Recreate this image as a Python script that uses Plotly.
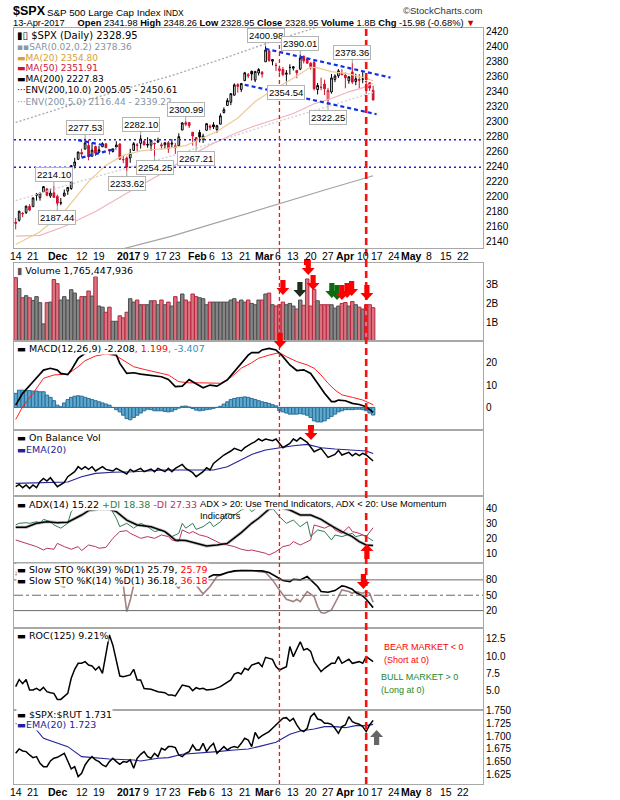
import plotly.graph_objects as go
import pandas as pd

# ---------------- calendar ----------------
HOLIDAYS = ["2016-11-24", "2016-12-26", "2017-01-02", "2017-01-16",
            "2017-02-20", "2017-04-14", "2017-05-29"]
CAL = [d.strftime("%Y-%m-%d") for d in pd.bdate_range("2016-11-14", "2017-05-31")
       if d.strftime("%Y-%m-%d") not in HOLIDAYS]
DAY = {d: i for i, d in enumerate(CAL)}

TICK_DATES = ["2016-11-14", "2016-11-21", "2016-12-01", "2016-12-12", "2016-12-19",
              "2017-01-03", "2017-01-09", "2017-01-17", "2017-01-23", "2017-02-01",
              "2017-02-06", "2017-02-13", "2017-02-21", "2017-03-01", "2017-03-06",
              "2017-03-13", "2017-03-20", "2017-03-27", "2017-04-03", "2017-04-10",
              "2017-04-17", "2017-04-24", "2017-05-01", "2017-05-08", "2017-05-15",
              "2017-05-22"]
TICK_TEXT = ["14", "21", "<b>Dec</b>", "12", "19", "<b>2017</b>", "9", "17", "23", "<b>Feb</b>",
             "6", "13", "21", "<b>Mar</b>", "6", "13", "20", "27", "<b>Apr</b>", "10",
             "17", "24", "<b>May</b>", "8", "15", "22"]
TICK_NUDGE = [0, 0, 0, 0, 0, -1.5, 1.5, 0, 0, -2, 2, 0, 0, -1.5, 2.5, 0, 0, 0, 0, 0,
              0, 0, 0, 0, 0, 0]

# ---------------- price data ----------------
PREV_CLOSE = 2164.45
OPEN = [2165.64, 2168.29, 2177.53, 2178.61, 2186.85, 2186.43, 2201.56, 2198.55, 2206.27, 2210.21,
        2200.76, 2204.97, 2200.17, 2191.12, 2200.65, 2207.26, 2210.72, 2241.13, 2249.73, 2258.83,
        2263.32, 2268.35, 2253.77, 2266.81, 2259.24, 2266.50, 2270.54, 2262.93, 2260.25, 2266.23,
        2270.23, 2249.50, 2251.61, 2251.57, 2261.60, 2268.18, 2271.14, 2273.59, 2269.72, 2268.60,
        2271.14, 2272.74, 2269.14, 2269.14, 2271.90, 2269.96, 2267.78, 2267.88, 2288.88, 2298.63,
        2299.02, 2286.01, 2274.02, 2285.59, 2276.69, 2288.54, 2294.28, 2295.87, 2289.55, 2296.70,
        2312.27, 2321.72, 2326.12, 2335.58, 2349.64, 2343.01, 2354.91, 2361.11, 2367.50, 2355.73,
        2365.23, 2366.08, 2380.13, 2394.75, 2380.92, 2375.23, 2370.74, 2369.81, 2363.49, 2372.52,
        2371.56, 2368.55, 2370.34, 2387.71, 2383.71, 2378.24, 2379.32, 2343.00, 2345.97, 2350.42,
        2329.11, 2339.79, 2356.54, 2361.31, 2364.82, 2362.34, 2354.76, 2366.59, 2353.79, 2356.59,
        2357.16, 2353.92, 2352.15, 2341.98]
HIGH = [2171.36, 2180.84, 2179.22, 2188.06, 2189.89, 2198.70, 2204.80, 2204.72, 2213.35, 2211.14,
        2210.46, 2214.10, 2202.60, 2197.95, 2209.42, 2212.78, 2241.63, 2251.69, 2259.80, 2264.03,
        2277.53, 2276.20, 2272.12, 2268.05, 2267.47, 2272.56, 2271.23, 2263.18, 2263.79, 2273.82,
        2271.31, 2254.51, 2253.58, 2263.88, 2272.82, 2271.50, 2282.10, 2275.49, 2279.27, 2275.32,
        2271.78, 2278.68, 2272.08, 2272.01, 2274.33, 2276.96, 2271.78, 2284.63, 2299.55, 2300.99,
        2299.02, 2286.01, 2279.09, 2289.14, 2283.97, 2298.31, 2296.18, 2299.40, 2295.91, 2311.08,
        2319.23, 2331.58, 2337.58, 2351.30, 2351.31, 2351.16, 2366.71, 2365.13, 2368.26, 2367.34,
        2371.54, 2367.79, 2400.98, 2394.75, 2383.89, 2378.80, 2375.12, 2373.09, 2369.08, 2376.86,
        2374.42, 2368.55, 2390.01, 2388.10, 2385.71, 2379.55, 2381.93, 2351.81, 2358.92, 2356.22,
        2344.90, 2363.78, 2363.36, 2370.42, 2370.35, 2365.87, 2360.53, 2378.36, 2364.16, 2363.76,
        2366.37, 2355.22, 2352.72, 2348.26]
LOW = [2156.08, 2166.38, 2172.20, 2176.65, 2180.38, 2186.43, 2194.51, 2194.51, 2206.27, 2200.36,
       2198.15, 2198.81, 2187.44, 2188.37, 2199.97, 2202.21, 2208.93, 2237.57, 2249.23, 2252.37,
       2263.32, 2248.44, 2253.77, 2254.24, 2258.21, 2266.14, 2265.15, 2256.08, 2258.84, 2266.15,
       2249.11, 2244.56, 2233.62, 2245.13, 2261.60, 2260.45, 2264.06, 2268.80, 2265.27, 2260.83,
       2254.25, 2271.51, 2262.81, 2263.35, 2258.41, 2265.01, 2257.02, 2266.68, 2288.88, 2294.08,
       2291.62, 2268.04, 2267.21, 2272.44, 2271.65, 2287.88, 2288.57, 2290.16, 2285.38, 2296.61,
       2311.10, 2321.42, 2322.17, 2334.81, 2338.87, 2339.58, 2354.91, 2358.34, 2355.09, 2352.87,
       2361.87, 2358.96, 2380.13, 2380.17, 2375.39, 2367.98, 2365.51, 2361.01, 2354.54, 2363.04,
       2368.52, 2358.18, 2368.94, 2377.94, 2377.64, 2369.66, 2341.90, 2336.45, 2342.13, 2335.74,
       2322.25, 2337.63, 2352.94, 2358.58, 2362.60, 2344.73, 2350.72, 2350.52, 2348.90, 2344.65,
       2351.50, 2337.25, 2341.18, 2328.95]
CLOSE = [2164.20, 2180.39, 2176.94, 2187.12, 2181.90, 2198.18, 2202.94, 2204.72, 2213.35, 2201.72,
         2204.66, 2198.81, 2191.08, 2191.95, 2204.71, 2212.23, 2241.35, 2246.19, 2259.53, 2256.96,
         2271.72, 2253.28, 2262.03, 2258.07, 2262.53, 2270.76, 2265.18, 2260.96, 2263.79, 2268.88,
         2249.92, 2249.26, 2238.83, 2257.83, 2270.75, 2269.00, 2276.98, 2268.90, 2268.90, 2275.32,
         2270.44, 2274.64, 2267.89, 2271.89, 2263.69, 2271.31, 2265.20, 2280.07, 2298.37, 2296.68,
         2294.69, 2280.90, 2278.87, 2279.55, 2280.85, 2297.42, 2292.56, 2293.08, 2294.67, 2307.87,
         2316.10, 2328.25, 2337.58, 2349.25, 2347.22, 2351.16, 2365.38, 2362.82, 2363.81, 2367.34,
         2369.75, 2363.64, 2395.96, 2381.92, 2383.12, 2375.31, 2368.39, 2362.98, 2364.87, 2372.60,
         2373.47, 2365.45, 2385.26, 2381.38, 2378.25, 2373.47, 2344.02, 2348.45, 2345.96, 2343.98,
         2341.59, 2358.57, 2361.13, 2368.06, 2362.72, 2358.84, 2360.16, 2352.95, 2357.49, 2355.54,
         2357.16, 2353.78, 2344.93, 2328.95]
VOLUME_B = [3.37, 2.79, 2.30, 2.41, 2.30, 2.16, 2.36, 2.04, 0.91, 2.04,
            2.07, 3.27, 3.05, 2.18, 2.36, 2.18, 2.73, 2.55, 2.18, 2.36,
            2.36, 2.66, 2.39, 3.43, 1.86, 1.80, 1.53, 1.80, 1.05, 1.05,
            1.34, 1.23, 1.53, 2.25, 2.07, 2.18, 1.93, 1.93, 1.93, 2.14,
            2.14, 1.93, 2.18, 1.93, 2.07, 1.86, 2.36, 2.07, 2.50, 2.18,
            2.07, 2.50, 2.36, 2.30, 2.25, 1.93, 2.07, 2.07, 2.07, 2.07,
            2.07, 2.07, 2.18, 2.25, 2.07, 2.18, 2.07, 2.18, 2.00, 1.93,
            2.18, 2.18, 2.50, 2.55, 1.93, 1.86, 1.93, 2.07, 1.93, 2.00,
            1.86, 1.70, 2.18, 1.90, 3.30, 1.86, 2.75, 2.14, 1.93, 1.93,
            1.93, 1.93, 1.75, 1.86, 2.00, 2.05, 1.86, 2.10, 1.93, 1.80,
            1.70, 1.93, 1.93, 1.77]

# moving averages (trading-day index -> value)
MA20_X = [0, 7, 14, 21, 26, 31, 36, 43, 49, 53, 58, 64, 69, 74, 80, 85, 87, 91, 96, 101, 103]
MA20_Y = [2136, 2153, 2180, 2220, 2242, 2255, 2261, 2264, 2268, 2276, 2287, 2305, 2327, 2342,
          2358, 2373, 2372, 2367, 2364, 2358, 2354.8]
MA50_X = [0, 7, 14, 23, 33, 43, 49, 56, 62, 68, 74, 80, 86, 91, 96, 101, 103]
MA50_Y = [2147, 2148, 2160, 2180, 2207, 2233, 2251, 2269, 2282, 2293, 2302, 2311, 2324, 2331,
          2340, 2347, 2351.9]
MA200_X = [0, 15, 30, 45, 60, 75, 90, 103]
MA200_Y = [2090, 2110, 2129, 2147, 2168, 2190, 2210, 2227.8]
ENV_PCT = [10.0, 5.0]

PRICE_LABELS = [(72, 2400.98, 1), (82, 2390.01, 1), (97, 2378.36, 1), (78, 2354.54, -1),
                (90, 2322.25, -1), (49, 2300.99, 1), (20, 2277.53, 1), (36, 2282.10, 1),
                (52, 2267.21, -1), (40, 2254.25, -1), (32, 2233.62, -1), (11, 2214.10, 1),
                (12, 2187.44, -1)]

# ---------------- indicators ----------------
MACD_X = [0, 2, 5, 8, 10, 12, 13, 15, 16, 18, 20, 21, 24, 27, 29, 30, 32, 34, 36, 39, 42, 44, 46,
          48, 50, 51, 54, 56, 58, 61, 63, 65, 67, 68, 70, 71, 73, 75, 77, 79, 81, 83, 85, 87, 89,
          91, 92, 93, 95, 97, 99, 101, 103]
MACD_Y = [1.0, 6.3, 11.5, 16.7, 17.5, 16.7, 15.2, 14.7, 16.7, 21.9, 24.2, 26.4, 26.9, 24.2, 23.5,
          19.7, 15.2, 15.5, 14.9, 14.4, 13.7, 12.5, 9.3, 9.5, 12.5, 11.5, 8.8, 10.0, 9.5, 12.3,
          16.0, 19.4, 23.4, 24.5, 24.5, 25.7, 26.4, 25.7, 22.7, 19.0, 16.5, 16.8, 15.2, 10.8, 6.3,
          2.6, 2.6, 3.3, 3.0, 1.8, 1.3, 0.3, -2.2]
SIGNAL_X = [0, 2, 5, 8, 11, 15, 18, 20, 23, 26, 29, 32, 34, 37, 41, 44, 47, 50, 53, 57, 59, 62,
            65, 68, 70, 73, 76, 78, 81, 84, 86, 88, 90, 92, 94, 97, 100, 103]
SIGNAL_Y = [-5.4, 0.3, 6.3, 13.0, 14.5, 14.9, 18.2, 20.9, 23.0, 23.9, 23.0, 20.0, 18.2, 17.0,
            15.5, 14.5, 11.5, 11.0, 11.0, 10.8, 10.8, 13.4, 17.5, 20.0, 22.0, 23.4, 24.5, 22.7,
            20.5, 19.0, 17.5, 14.5, 10.8, 7.8, 5.6, 4.5, 3.3, 1.2]
MACD_HIST = [6.3, 7.7, 7.7, 7.5, 7.5, 7.3, 7.3, 7.0, 7.0,
             5.5, 4.5, 3.0, 1.0, 0.3, 2.0, 3.5,
             4.5, 5.0, 5.2, 5.0, 4.5, 4.0, 3.5, 3.0, 2.5, 2.0, 1.5, 1.0, 0.0,
             -1.0, -2.0, -3.5, -5.0, -5.5, -4.5, -3.5, -2.5, -1.5, -0.8,
             -1.0, -1.5, -1.5, -1.5, -1.8, -2.0, -1.7, -1.0, -0.3, 0.5, 0.6, 0.2,
             -0.5, -1.2, -1.5, -1.3, -1.0, -0.8, -0.4, 0.0, 0.5,
             1.5, 2.5, 3.5, 4.0, 4.3, 4.5, 4.7, 4.5, 4.0, 3.5, 3.0, 2.5,
             2.2, 1.8, 1.2, 0.7, -1.5, -2.0, -2.5, -3.0,
             -3.0, -3.0, -2.8, -3.0, -3.5, -4.5, -6.0, -6.5, -6.5, -6.0, -5.0,
             -4.0, -3.0, -2.0, -1.5, -1.0, -1.0, -1.0, -0.8, -0.8, -1.0, -1.5, -2.5, -3.4]

OBV_X = [0, 1, 2, 3, 4, 5, 6, 7, 8, 9, 10, 11, 12, 14, 15, 17, 18, 19, 20, 21, 22, 23, 25, 26, 28,
         29, 31, 32, 33, 34, 36, 37, 39, 40, 41, 43, 44, 45, 46, 48, 49, 51, 52, 54, 55, 56, 57,
         59, 60, 62, 63, 65, 66, 68, 69, 70, 71, 72, 74, 75, 77, 79, 80, 81, 82, 84, 85, 86, 88,
         89, 90, 92, 93, 94, 96, 97, 98, 99, 100, 101, 103]
OBV_Y = [5, 7.3, 4, 6.7, 3.3, 6.7, 4, 10, 13.3, 10.7, 14, 9.3, 5, 9.3, 15, 20, 25, 22.3, 25, 22.3,
         25, 20.7, 25, 22.3, 20.7, 23.3, 20, 17.7, 22.3, 20, 23.3, 20, 22.7, 20, 23.3, 20, 23.3,
         20, 23.3, 27.3, 23.3, 19, 15, 20, 24, 21.7, 28.3, 33.3, 36.7, 40.7, 43.3, 40.7, 44, 48.3,
         50, 52.7, 50.7, 52.7, 51, 52.7, 44, 48.3, 52.7, 50.7, 54, 49.3, 45, 40, 43.3, 38.3, 34.3,
         37.3, 41.3, 36.7, 39.3, 36, 38.3, 36, 38.3, 36.7, 30.7]
OBV_EMA_X = [0, 10, 15, 19, 23, 28, 34, 43, 53, 57, 61, 65, 68, 72, 76, 80, 84, 88, 92, 97, 101, 103]
OBV_EMA_Y = [8.3, 9.3, 9.7, 15, 18.3, 19.5, 20, 21.7, 21.7, 21.7, 25, 31.7, 37.3, 41.7, 44, 46,
             47.3, 44, 42.7, 41.7, 40.7, 38.3]

ADX_X = [0, 3, 6, 9, 12, 15, 19, 21, 24, 27, 29, 32, 35, 39, 43, 46, 49, 52, 55, 58, 61, 65, 68,
         70, 73, 76, 79, 82, 85, 88, 91, 94, 97, 99, 101, 103]
ADX_Y = [27.6, 27.6, 30.3, 31.4, 30.7, 31, 35.9, 38.9, 39.8, 39.8, 38.2, 32.5, 29.2, 28, 24.7, 19,
         18.6, 16.7, 14.9, 15.6, 16.7, 24, 30.3, 33.7, 39.8, 41.1, 39.3, 35.9, 35.9, 33, 28.5,
         24.7, 21.3, 17.9, 15.6, 15.2]
PDI_X = [0, 1, 3, 4, 6, 7, 8, 10, 11, 13, 15, 16, 17, 20, 24, 27, 29, 30, 32, 34, 36, 38, 40, 42,
         44, 45, 47, 48, 49, 51, 52, 54, 56, 57, 59, 61, 63, 65, 67, 68, 70, 72, 74, 76, 78, 80,
         82, 84, 85, 87, 89, 91, 92, 94, 97, 98, 100, 101, 103]
PDI_Y = [29.2, 30.3, 30.7, 30.3, 31.4, 30.3, 33, 31.4, 29.2, 27, 30.3, 38.2, 40.5, 43, 44, 42,
         33.7, 28, 30.3, 27, 30.3, 28, 24.7, 25.8, 23.5, 21.3, 23.5, 30.3, 27, 30.3, 26.2, 28,
         31.4, 28, 31.4, 37, 35.9, 39.3, 41.1, 38.2, 41.6, 40.5, 40.5, 34.8, 30.3, 32.5, 28, 31.4,
         21.3, 25.8, 24.7, 19, 22.4, 21.3, 23.5, 21.3, 22.4, 21.3, 18.4]
MDI_X = [0, 3, 6, 8, 9, 11, 12, 14, 16, 18, 19, 21, 23, 24, 26, 28, 30, 32, 33, 35, 36, 38, 40,
         42, 44, 45, 47, 48, 50, 51, 53, 55, 57, 59, 61, 63, 65, 67, 68, 70, 72, 73, 75, 77, 79,
         80, 82, 83, 85, 86, 88, 89, 91, 92, 94, 96, 97, 99, 101, 102, 103]
MDI_Y = [19, 16.7, 14.5, 12.2, 13.4, 12.7, 16.7, 14.5, 12.7, 14.5, 11.8, 15.6, 14.5, 13.4, 14,
         20.1, 24.7, 25.3, 23.5, 21.3, 20.1, 21.3, 20.1, 22.4, 21.3, 19, 17.9, 25.8, 23.5, 24.7,
         22.4, 21.3, 19, 16.7, 15.6, 14.5, 12.7, 11.8, 12.2, 11.1, 10, 8.8, 11.1, 14.5, 15.6,
         17.9, 15.6, 16.7, 19, 29.2, 28, 27, 29.2, 25.8, 23.5, 28, 24.7, 23.5, 21.3, 24, 27.3]

K39_X = [0, 5, 10, 15, 20, 25, 30, 35, 40, 44, 46, 49, 51, 52, 54, 55, 57, 59, 61, 63, 65, 68, 71,
         73, 75, 77, 79, 80, 82, 84, 85, 87, 88, 90, 92, 94, 95, 97, 98, 100, 101, 103]
K39_Y = [90, 95, 88, 92, 96, 94, 85, 88, 92, 88, 89.8, 89.8, 87.8, 86.5, 78.7, 83.3, 89.8, 89.8,
         94.3, 97.6, 98.3, 98.3, 97.6, 94.3, 86.5, 78.7, 76.7, 81.3, 80, 86.5, 80, 67, 57.2, 55.9,
         59.1, 68.3, 67, 61.7, 55.2, 48.7, 42.2, 25.8]
K14_X = [0, 4, 8, 12, 13, 14, 15, 20, 25, 30, 31, 32, 33, 34, 35, 40, 44, 46, 47, 49, 51, 52, 54,
         56, 58, 61, 65, 68, 72, 74, 76, 78, 80, 81, 82, 84, 86, 87, 88, 89, 91, 93, 94, 96, 97,
         98, 100, 101, 102, 103]
K14_Y = [95, 85, 90, 80, 68, 66, 80, 95, 90, 80, 70, 18, 40, 70, 85, 88, 70, 70, 63.7, 91.7, 91.7,
         70, 52.6, 67, 86.5, 94.3, 98.3, 98.3, 94.3, 80, 60.4, 42.2, 37.6, 42.2, 37.6, 57.2, 47.4,
         27.8, 16.1, 14.8, 21.3, 47.4, 60.4, 57.2, 53.9, 57.2, 53.9, 57.2, 53.9, 36.2]

ROC_X = [0, 1, 2, 3, 4, 5, 6, 7, 8, 9, 10, 11, 12, 13, 15, 16, 17, 18, 19, 20, 21, 22, 23, 24, 25,
         26, 27, 28, 29, 30, 31, 33, 34, 35, 36, 37, 39, 41, 43, 44, 45, 46, 48, 49, 50, 51, 52,
         53, 54, 55, 57, 59, 60, 62, 63, 64, 65, 66, 67, 68, 70, 71, 72, 74, 75, 76, 78, 79, 80,
         82, 83, 84, 85, 86, 88, 89, 91, 92, 93, 94, 96, 97, 99, 100, 101, 103]
ROC_Y = [5.56, 6.6, 6.0, 6.6, 5.07, 5.07, 5.3, 4.98, 5.46, 4.83, 4.68, 4.59, 3.7, 3.7, 4.59, 6.77,
         8.08, 8.96, 8.96, 9.2, 8.7, 8.57, 7.98, 8.47, 7.5, 10.4, 13.1, 11.6, 9.44, 7.11, 7.01,
         7.26, 8.08, 6.53, 6.53, 5.3, 5.17, 4.83, 4.68, 4.34, 4.34, 4.2, 5.8, 5.66, 5.56, 4.98,
         5.41, 5.22, 5.32, 5.07, 5.17, 5.56, 5.9, 6.53, 7.4, 7.6, 7.4, 8.23, 7.98, 8.7, 9.05, 8.47,
         9.83, 9.54, 8.47, 7.98, 8.47, 11.4, 9.93, 12.1, 10.9, 11.1, 10.7, 9.2, 7.74, 8.23, 8.96,
         8.96, 9.93, 8.96, 9.54, 8.96, 9.2, 8.96, 9.93, 9.21]

RATIO = [1.6663, 1.6748, 1.6709, 1.6696, 1.6630, 1.6578, 1.6598, 1.6467, 1.6401, 1.6401,
         1.6512, 1.6565, 1.6584, 1.6630, 1.6663, 1.6512, 1.6355, 1.6401, 1.6205, 1.6270,
         1.6434, 1.6532, 1.6598, 1.6532, 1.6500, 1.6434, 1.6401, 1.6500, 1.6565, 1.6500,
         1.6447, 1.6500, 1.6487, 1.6532, 1.6369, 1.6565, 1.6643, 1.6696, 1.6598, 1.6565,
         1.6663, 1.6598, 1.6761, 1.6728, 1.6794, 1.6794, 1.6774, 1.6630, 1.6598, 1.6663,
         1.6696, 1.6826, 1.6728, 1.6728, 1.6859, 1.6696, 1.6794, 1.6859, 1.6663, 1.6728,
         1.6794, 1.6728, 1.6774, 1.6794, 1.6774, 1.6859, 1.6957, 1.6924, 1.6794, 1.7075,
         1.6957, 1.7009, 1.7055, 1.7088, 1.7153, 1.7219, 1.7284, 1.7350, 1.7363, 1.7297,
         1.7350, 1.7219, 1.7121, 1.7088, 1.7153, 1.7382, 1.7448, 1.7336, 1.7317, 1.7251,
         1.7251, 1.7232, 1.7153, 1.7055, 1.7186, 1.7219, 1.7382, 1.7284, 1.7251, 1.7232,
         1.7186, 1.7088, 1.7219, 1.7310]
RATIO_EMA_X = [0, 6, 8, 12, 15, 19, 24, 27, 34, 36, 41, 44, 48, 53, 58, 63, 67, 70, 75, 79, 82, 86,
               89, 92, 95, 98, 101, 103]
RATIO_EMA_Y = [1.725, 1.712, 1.6957, 1.6859, 1.6794, 1.6598, 1.6565, 1.655, 1.653, 1.6512, 1.6565,
               1.6578, 1.6643, 1.6663, 1.6696, 1.6728, 1.6748, 1.6794, 1.6879, 1.7036, 1.71,
               1.714, 1.7186, 1.7186, 1.7166, 1.7206, 1.7206, 1.723]

MARK_DATES = ["2017-03-07", "2017-04-11"]

# ---------------- layout helpers ----------------
W, H = 620, 800
L, R, T, B = 14, 483, 28, 784


def PX(px):
    return (px - L) / (R - L)


def PY(py):
    return (B - py) / (B - T)


PANELS = [(28, 248), (263, 341), (341, 430), (430, 496), (496, 563), (563, 628), (628, 710), (710, 784)]
YRANGES = [[2131.2, 2425.3], [0, 4.15e9], [-10.1, 29.7], [-4.3, 61.7], [3.4, 48.8],
           [-14, 113], [2.16, 14.1], [1.606, 1.7513]]
XRANGE = [-0.49, 134.66]

N = len(CLOSE)
XI = list(range(N))
RED = "#d3102e"
FRAME = "#a8a8a8"

fig = go.Figure()

ma200_up10 = [v * (1 + ENV_PCT[0] / 100) for v in MA200_Y]
ma200_up5 = [v * (1 + ENV_PCT[1] / 100) for v in MA200_Y]
for xs, ys, col, dash, w in [
        (MA200_X, ma200_up10, "#a9a9a9", "2px,2px", 1.3),
        (MA200_X, ma200_up5, "#cfcfcf", "2px,2px", 1.3),
        (MA200_X, MA200_Y, "#a3a3a3", "solid", 1.2),
        (MA50_X, MA50_Y, "#f2b3bb", "solid", 1.2),
        (MA20_X, MA20_Y, "#eecb95", "solid", 1.2)]:
    fig.add_trace(go.Scatter(x=xs, y=ys, mode="lines", line=dict(color=col, dash=dash, width=w),
                             xaxis="x", yaxis="y", hoverinfo="skip", showlegend=False))

# ---- candles: black when close >= previous close, red otherwise ----
prev = [PREV_CLOSE] + CLOSE[:-1]
up = [c >= p for c, p in zip(CLOSE, prev)]
for flag, col in [(True, "#000000"), (False, RED)]:
    ids = [i for i in XI if up[i] == flag]
    fig.add_trace(go.Candlestick(
        x=ids, open=[OPEN[i] for i in ids], high=[HIGH[i] for i in ids],
        low=[LOW[i] for i in ids], close=[CLOSE[i] for i in ids],
        increasing=dict(line=dict(color=col, width=1), fillcolor="white"),
        decreasing=dict(line=dict(color=col, width=1), fillcolor=col),
        whiskerwidth=0, xaxis="x", yaxis="y", hoverinfo="skip", showlegend=False))

# ---- volume ----
vcol = ["#858585" if u else "#d8747f" for u in up]
vline = ["#4d4d4d" if u else "#b8243e" for u in up]
fig.add_trace(go.Bar(x=XI, y=[v * 1e9 for v in VOLUME_B], width=1,
                     marker=dict(color=vcol, line=dict(color=vline, width=1)),
                     xaxis="x2", yaxis="y2", hoverinfo="skip", showlegend=False))

# ---- MACD ----
fig.add_trace(go.Bar(x=XI, y=MACD_HIST, width=1,
                     marker=dict(color="#5ba8d0", line=dict(color="#2d6f95", width=1)),
                     xaxis="x3", yaxis="y3", hoverinfo="skip", showlegend=False))
fig.add_trace(go.Scatter(x=SIGNAL_X, y=SIGNAL_Y, mode="lines", line=dict(color="#ff2020", width=1),
                         xaxis="x3", yaxis="y3", hoverinfo="skip", showlegend=False))
fig.add_trace(go.Scatter(x=MACD_X, y=MACD_Y, mode="lines", line=dict(color="#000", width=1.7),
                         xaxis="x3", yaxis="y3", hoverinfo="skip", showlegend=False))

# ---- OBV ----
fig.add_trace(go.Scatter(x=OBV_EMA_X, y=OBV_EMA_Y, mode="lines", line=dict(color="#23239a", width=1.1),
                         xaxis="x4", yaxis="y4", hoverinfo="skip", showlegend=False))
fig.add_trace(go.Scatter(x=OBV_X, y=OBV_Y, mode="lines", line=dict(color="#000", width=1.5),
                         xaxis="x4", yaxis="y4", hoverinfo="skip", showlegend=False))

# ---- ADX ----
fig.add_trace(go.Scatter(x=ADX_X, y=ADX_Y, mode="lines", line=dict(color="#c4c4c4", width=3.2),
                         xaxis="x5", yaxis="y5", hoverinfo="skip", showlegend=False))
fig.add_trace(go.Scatter(x=PDI_X, y=PDI_Y, mode="lines", line=dict(color="#2f7d52", width=1),
                         xaxis="x5", yaxis="y5", hoverinfo="skip", showlegend=False))
fig.add_trace(go.Scatter(x=MDI_X, y=MDI_Y, mode="lines", line=dict(color="#b8345e", width=1),
                         xaxis="x5", yaxis="y5", hoverinfo="skip", showlegend=False))
fig.add_trace(go.Scatter(x=ADX_X, y=ADX_Y, mode="lines", line=dict(color="#000", width=1.5),
                         xaxis="x5", yaxis="y5", hoverinfo="skip", showlegend=False))

# ---- Stochastics ----
fig.add_trace(go.Scatter(x=K14_X, y=K14_Y, mode="lines", line=dict(color="#a38282", width=1.6),
                         xaxis="x6", yaxis="y6", hoverinfo="skip", showlegend=False))
fig.add_trace(go.Scatter(x=K39_X, y=K39_Y, mode="lines", line=dict(color="#000", width=1.6),
                         xaxis="x6", yaxis="y6", hoverinfo="skip", showlegend=False))

# ---- ROC ----
fig.add_trace(go.Scatter(x=ROC_X, y=ROC_Y, mode="lines", line=dict(color="#000", width=1.5),
                         xaxis="x7", yaxis="y7", hoverinfo="skip", showlegend=False))

# ---- SPX:RUT ----
fig.add_trace(go.Scatter(x=RATIO_EMA_X, y=RATIO_EMA_Y, mode="lines", line=dict(color="#23239a", width=1.1),
                         xaxis="x8", yaxis="y8", hoverinfo="skip", showlegend=False))
fig.add_trace(go.Scatter(x=XI, y=RATIO, mode="lines", line=dict(color="#000", width=1.5),
                         xaxis="x8", yaxis="y8", hoverinfo="skip", showlegend=False))

# ---------------- axes ----------------
YTICKS = [
    (list(range(2140, 2421, 20)), [str(v) for v in range(2140, 2421, 20)]),
    ([1e9, 2e9, 3e9], ["1B", "2B", "3B"]),
    ([0, 10, 20], ["0", "10", "20"]),
    ([], []),
    ([10, 20, 30, 40], ["10", "20", "30", "40"]),
    ([20, 50, 80], ["20", "50", "80"]),
    ([5, 7.5, 10, 12.5], ["5.0", "7.5", "10.0", "12.5"]),
    ([1.625, 1.65, 1.675, 1.7, 1.725, 1.75], ["1.625", "1.650", "1.675", "1.700", "1.725", "1.750"]),
]
tickvals_x = [DAY[d] for d in TICK_DATES]
lay = {}
for k, (top, bot) in enumerate(PANELS):
    n = "" if k == 0 else str(k + 1)
    lay["xaxis" + n] = dict(domain=[0, 1], range=XRANGE, anchor="y" + n, showgrid=False,
                            zeroline=False, showline=True, mirror=True, linecolor=FRAME, linewidth=1,
                            tickvals=tickvals_x, showticklabels=False, ticks="", automargin=False,
                            fixedrange=True, rangeslider=dict(visible=False))
    if k:
        lay["xaxis" + n]["matches"] = "x"
    tv, tt = YTICKS[k]
    lay["yaxis" + n] = dict(domain=[PY(bot), PY(top)], range=YRANGES[k], anchor="x" + n, side="right",
                            showgrid=False, zeroline=False, showline=True, mirror=True, linecolor=FRAME,
                            linewidth=1, tickvals=tv, ticktext=tt, ticks="", automargin=False,
                            tickfont=dict(family="Liberation Sans", size=10, color="#000"),
                            fixedrange=True)

shapes = []
# horizontal support lines and trend channel (price panel)
for lvl in [2276.0, 2239.0]:
    shapes.append(dict(type="line", xref="x domain", yref="y", x0=0, x1=1, y0=lvl, y1=lvl,
                       line=dict(color="#1a1ae0", width=1.5, dash="2px,3px")))
for x0, y0, x1, y1 in [(72, 2397.5, 108, 2359.0), (66, 2349.5, 104, 2310.0),
                       (18, 2275.5, 26, 2268.0), (19, 2252.0, 29, 2264.0)]:
    shapes.append(dict(type="line", xref="x", yref="y", x0=x0, x1=x1, y0=y0, y1=y1,
                       line=dict(color="#1030e8", width=2.2, dash="4px,3px")))
# stochastic reference levels
for lvl, dash in [(80, "solid"), (50, "dashdot"), (20, "solid")]:
    shapes.append(dict(type="line", xref="x6 domain", yref="y6", x0=0, x1=1, y0=lvl, y1=lvl,
                       line=dict(color="#6a6a6a", width=1, dash=dash)))
# vertical red marker lines
for d, w, dash in [(MARK_DATES[0], 1.3, "4px,3px"), (MARK_DATES[1], 2.6, "7px,4px")]:
    shapes.append(dict(type="line", xref="x", yref="paper", x0=DAY[d], x1=DAY[d], y0=0, y1=1,
                       line=dict(color="#ff1010", width=w, dash=dash)))

DOWN = "M 0 0 L -6.5 7 L -2.6 7 L -2.6 15 L 2.6 15 L 2.6 7 L 6.5 7 Z"
UPP = "M 0 0 L -6.5 -7 L -2.6 -7 L -2.6 -15 L 2.6 -15 L 2.6 -7 L 6.5 -7 Z"
ARROWS = [(77.0, 295, DOWN, "#ff0000"), (81.9, 297, DOWN, "#1c2e1c"), (84.3, 275, DOWN, "#ff0000"),
          (85.7, 290, DOWN, "#ff0000"), (91.1, 298, DOWN, "#0b6a12"), (92.6, 300, DOWN, "#0b6a12"),
          (94.0, 300, DOWN, "#ff0000"), (95.5, 298, DOWN, "#ff0000"), (96.8, 296, DOWN, "#ff0000"),
          (101.2, 300, DOWN, "#ff0000"), (76.2, 348, DOWN, "#ff0000"), (85.1, 440, DOWN, "#ff0000"),
          (101.2, 544, UPP, "#ff0000"), (100.2, 589, DOWN, "#ff0000"), (104.0, 730, UPP, "#666666")]
for xa, py, path, col in ARROWS:
    shapes.append(dict(type="path", xref="x", yref="paper", xsizemode="pixel", ysizemode="pixel",
                       xanchor=xa, yanchor=PY(py), path=path, fillcolor=col,
                       line=dict(color=col, width=0)))
for x0, y0, x1, y1 in [(304, 259, 310, 265), (308, 425, 314, 430)]:
    shapes.append(dict(type="rect", xref="paper", yref="paper", x0=PX(x0), x1=PX(x1),
                       y0=PY(y1), y1=PY(y0), fillcolor="#ff0000", line=dict(width=0)))

ann = []


def text(px, py, s, size=9, family="DejaVu Sans", color="#000", xanchor="left", bg=None):
    d = dict(xref="paper", yref="paper", x=PX(px), y=PY(py), text=s, showarrow=False,
             xanchor=xanchor, yanchor="middle", font=dict(family=family, size=size, color=color),
             borderpad=0)
    if bg:
        d["bgcolor"] = bg
    ann.append(d)


# date labels under the price panel and under the last panel
for tv, tt, nudge in zip(tickvals_x, TICK_TEXT, TICK_NUDGE):
    for py in (256, 792):
        ann.append(dict(xref="x", yref="paper", x=tv, y=PY(py), xshift=nudge, text=tt,
                        showarrow=False, xanchor="center", yanchor="middle",
                        font=dict(family="Liberation Sans", size=10.5, color="#000")))

# header
text(12, 11, "<b>$SPX</b>", size=12.5, family="Liberation Sans")
text(46, 12, "S&P 500 Large Cap Index <span style='font-size:8.5px'>INDX</span>", size=9.8,
     family="Liberation Sans")
text(483, 10, "©StockCharts.com", size=9.5, family="Liberation Sans", color="#333", xanchor="right")
text(12, 23, "13-Apr-2017&nbsp;&nbsp;&nbsp;&nbsp; <b>Open</b> 2341.98 <b>High</b> 2348.26 <b>Low</b> 2328.95 "
     "<b>Close</b> 2328.95 <b>Volume</b> 1.8B <b>Chg</b> -15.98 (-0.68%) "
     "<span style='color:#cc0000'>▼</span>", size=9.3, family="Liberation Sans")

# price legend
PLEG = [(35, "<span style='color:#000'>▮▯</span> $SPX (Daily) 2328.95", "#000", 10),
        (46.7, "<span style='color:#8a98a8'>▪▪</span>SAR(0.02,0.2) 2378.36", "#8494a4", 9),
        (57.7, "▬MA(20) 2354.80", "#d9a035", 9),
        (68.3, "▬MA(50) 2351.91", "#d0103a", 9),
        (79, "▬MA(200) 2227.83", "#000", 9),
        (90, "···ENV(200,10.0) 2005.05 - 2450.61", "#000", 9),
        (101.7, "···ENV(200,5.0) 2116.44 - 2339.22", "#8494a4", 9)]
for py, s, c, sz in PLEG:
    text(16, py, s, size=sz, color=c)

# price high/low labels
for i, v, side in PRICE_LABELS:
    ann.append(dict(xref="x", yref="y", x=i, y=(HIGH[i] if side > 0 else LOW[i]),
                    text=f"{v:.2f}", showarrow=True, arrowhead=0, arrowwidth=1, arrowcolor="#a0a0a0",
                    ax=0, ay=-11 if side > 0 else 12, bordercolor="#b4b4b4", borderwidth=1,
                    borderpad=1, bgcolor="white",
                    font=dict(family="Liberation Sans", size=9.5, color="#000")))

WB = "white"
text(16, 270.7, "<span style='color:#555'>▮</span> Volume 1,765,447,936", size=9.5, bg=WB)
text(16, 348.3, "▬ MACD(12,26,9) -2.208<span style='color:#ff0000'>, 1.199</span>"
     "<span style='color:#3a8fb8'>, -3.407</span>", size=9.5, bg=WB)
text(16, 437.7, "▬ On Balance Vol", size=9.5, bg=WB)
text(16, 449, "<span style='color:#23239a'>▬EMA(20)</span>", size=9.5, bg=WB)
text(16, 504, "▬ ADX(14) 15.22 <span style='color:#2f7d52'>+DI 18.38</span> "
     "<span style='color:#b8345e'>-DI 27.33</span>", size=9.5, bg=WB)
text(199, 504, "ADX > 20: Use Trend Indicators, ADX < 20: Use Momentum", size=9.3,
     family="Liberation Sans", bg=WB)
text(199, 516, "Indicators", size=9.3, family="Liberation Sans")
text(16, 569.3, "▬ Slow STO %K(39) %D(1) 25.79, <span style='color:#ff0000'>25.79</span>", size=9.5, bg=WB)
text(16, 580, "▬ Slow STO %K(14) %D(1) 36.18, <span style='color:#ff0000'>36.18</span>", size=9.5, bg=WB)
text(16, 635.7, "▬ ROC(125) 9.21%", size=9.5, bg=WB)
text(16, 714, "▬ $SPX:$RUT 1.731", size=9.5, bg=WB)
text(16, 724.3, "<span style='color:#23239a'>▬EMA(20) 1.723</span>", size=9.5, bg=WB)

text(383, 647, "BEAR MARKET < 0", size=9, family="Liberation Sans", color="#ff0000")
text(383, 660, "(Short at 0)", size=9, family="Liberation Sans", color="#ff0000")
text(380, 677, "BULL MARKET > 0", size=9, family="Liberation Sans", color="#1f8a1f")
text(380, 690, "(Long at 0)", size=9, family="Liberation Sans", color="#1f8a1f")

fig.update_layout(width=W, height=H, margin=dict(l=L, r=W - R, t=T, b=H - B, autoexpand=False),
                  paper_bgcolor="white", plot_bgcolor="white", showlegend=False,
                  shapes=shapes, annotations=ann, barmode="overlay", **lay)
fig.write_html("out.html")
